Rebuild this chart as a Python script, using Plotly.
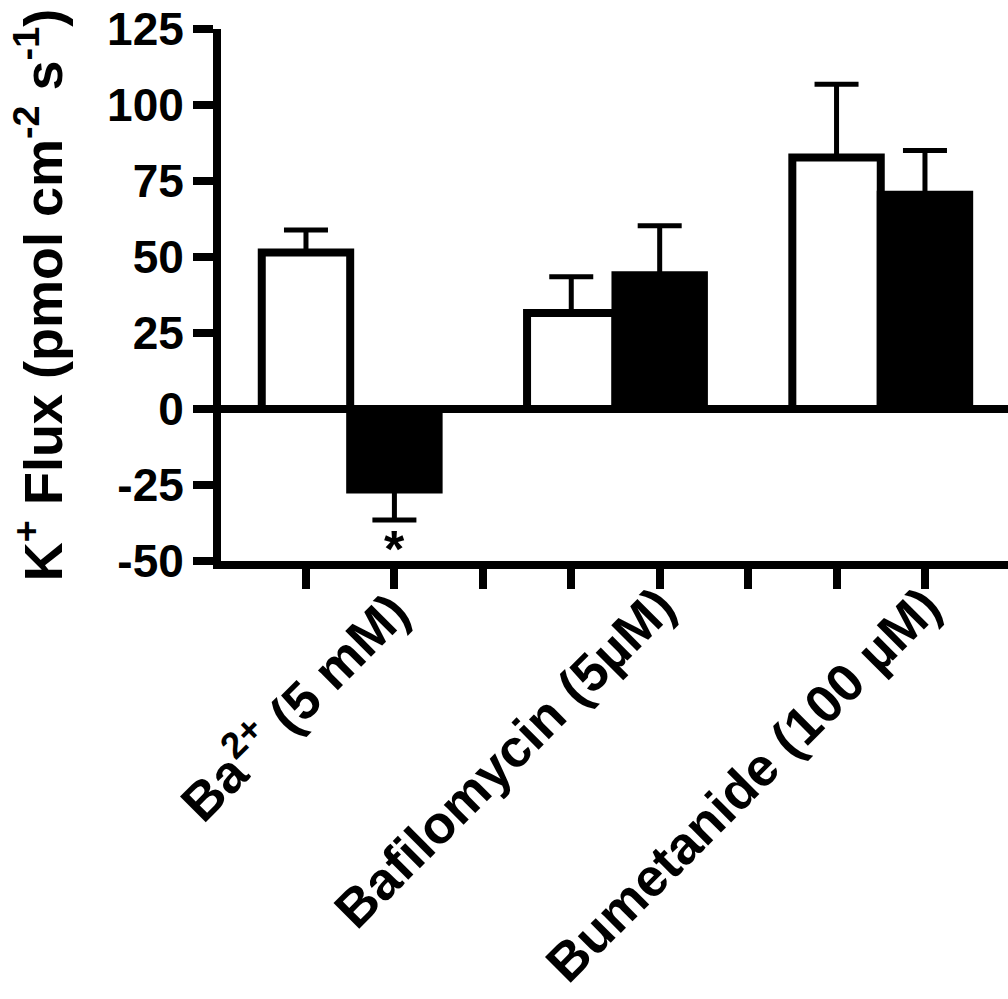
import plotly.graph_objects as go

# ---- data ----
categories = ["Ba<sup>2+</sup> (5 mM)", "Bafilomycin (5µM)", "Bumetanide (100 µM)"]
control_vals = [51.5, 31.6, 82.7]
control_err_up = [7.4, 11.9, 24.1]
treated_vals = [-26.5, 44.0, 70.5]
treated_err_up = [0.0, 16.3, 14.5]
treated_err_down = [10.0, 0.0, 0.0]
y_tickvals = [-50, -25, 0, 25, 50, 75, 100, 125]
y_ticktext = ["-50", "-25", "0", "25", "50", "75", "100", "125"]
signif_marks = ["*", "", ""]

FONT = "Liberation Sans, Arial, sans-serif"

# slot positions: each group = control slot, treated slot, gap slot
pos_ctrl = [3 * i for i in range(len(categories))]
pos_trt = [3 * i + 1 for i in range(len(categories))]
all_slots = list(range(3 * len(categories) - 1))

fig = go.Figure()
fig.add_trace(go.Bar(
    x=pos_ctrl, y=control_vals, width=1,
    marker=dict(color="white", line=dict(color="black", width=8)),
    error_y=dict(type="data", symmetric=False, array=control_err_up,
                 arrayminus=[0] * len(control_vals),
                 color="black", thickness=5, width=22),
))
fig.add_trace(go.Bar(
    x=pos_trt, y=treated_vals, width=1,
    marker=dict(color="black", line=dict(color="black", width=8)),
    error_y=dict(type="data", symmetric=False, array=treated_err_up,
                 arrayminus=treated_err_down,
                 color="black", thickness=5, width=22),
))

annotations = []
for i, cat in enumerate(categories):
    annotations.append(dict(
        x=3 * i + 0.5 + 0.83, xref="x", y=-0.022, yref="paper",
        text=cat, showarrow=False, textangle=-45,
        xanchor="right", yanchor="top",
        font=dict(family=FONT, size=53, color="black", weight="bold"),
    ))
for i, mark in enumerate(signif_marks):
    if mark:
        lo = treated_vals[i] - treated_err_down[i]
        annotations.append(dict(
            x=pos_trt[i], xref="x", y=lo, yref="y",
            text=mark, showarrow=False, xanchor="center", yanchor="top",
            yshift=2,
            font=dict(family=FONT, size=52, color="black", weight="bold"),
        ))

fig.update_layout(
    width=1008, height=999,
    margin=dict(l=221, r=0, t=29, b=438, pad=0),
    plot_bgcolor="white", paper_bgcolor="white",
    showlegend=False, barmode="overlay",
    annotations=annotations,
    xaxis=dict(
        range=[-0.961, 7.939], tickvals=all_slots, showticklabels=False,
        ticks="outside", ticklen=20, tickwidth=8, tickcolor="black",
        showline=True, linewidth=8, linecolor="black",
        showgrid=False, zeroline=False,
    ),
    yaxis=dict(
        range=[-50, 125], tickvals=y_tickvals, ticktext=y_ticktext,
        ticks="outside", ticklen=20, tickwidth=8, tickcolor="black",
        showline=True, linewidth=8, linecolor="black",
        showgrid=False, zeroline=True, zerolinewidth=8, zerolinecolor="black",
        tickfont=dict(family=FONT, size=46, color="black", weight="bold"),
        title=dict(text="K<sup>+</sup> Flux (pmol cm<sup>-2</sup> s<sup>-1</sup>)",
                   font=dict(family=FONT, size=54, color="black", weight="bold"),
                   standoff=30),
    ),
)

fig.write_html("out.html")
